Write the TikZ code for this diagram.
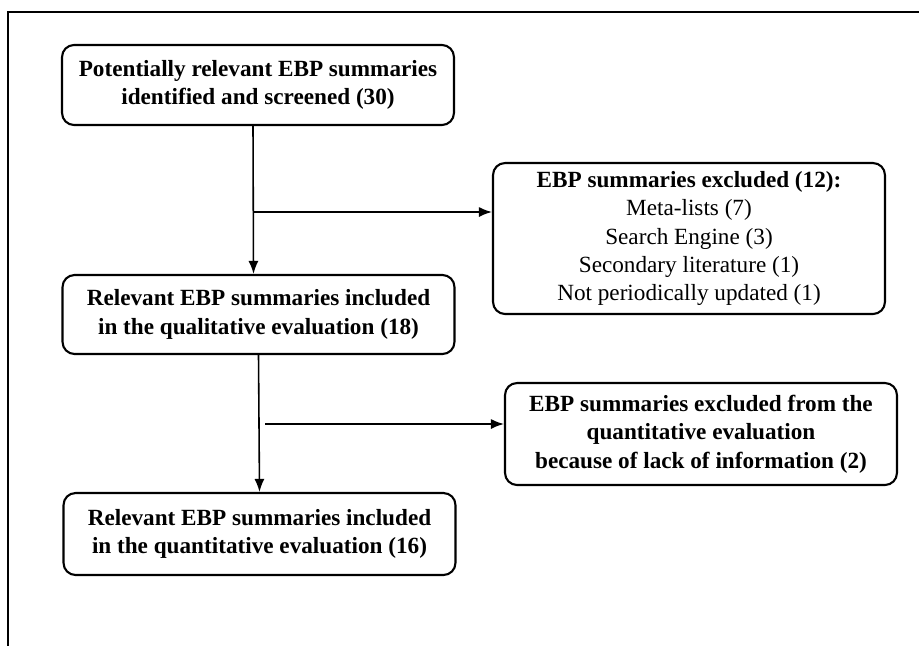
\documentclass[tikz,border=0pt]{standalone}
\usepackage{fontspec}
\setmainfont{Liberation Serif}
\usetikzlibrary{arrows.meta}

\tikzset{
  stage/.style={draw, line width=1.2pt, rounded corners=0.24cm, align=center,
    font=\bfseries\fontsize{13.2}{16.2}\selectfont, minimum width=7.84cm, inner sep=0pt},
  arr/.style={line width=0.9pt, -{Latex[length=0.26cm,width=0.2cm]}}
}

\begin{document}
\begin{tikzpicture}[x=0.02cm,y=-0.02cm]

\useasboundingbox (0,0) rectangle (919,646);

\draw[line width=1.1pt] (919,12) -- (8,12) -- (8,646);

\node[stage, minimum height=1.6cm] (ident) at (258,85) {Potentially relevant EBP summaries\\identified and screened (30)};
\node[stage, minimum height=3.02cm] (excl) at (689,238.5) {EBP summaries excluded (12):\\
  \mdseries Meta-lists (7)\\ \mdseries Search Engine (3)\\ \mdseries Secondary literature (1)\\ \mdseries Not periodically updated (1)};
\node[stage, minimum height=1.58cm] (qual) at (258.5,314.5) {Relevant EBP summaries included\\in the qualitative evaluation (18)};
\node[stage, minimum height=2.04cm] (lack) at (701,434) {EBP summaries excluded from the\\quantitative evaluation\\because of lack of information (2)};
\node[stage, minimum height=1.64cm] (quant) at (259.5,534) {Relevant EBP summaries included\\in the quantitative evaluation (16)};

\coordinate (split1) at (253,212);
\coordinate (split2) at (265,424);

\draw[arr] ([xshift=-0.1cm]ident.south) -- ([xshift=-0.1cm]qual.north);
\draw[arr] (split1) -- (split1 -| excl.west);
\draw[arr] (qual.south) -- (quant.north);
\draw[arr] (split2) -- (split2 -| lack.west);

\end{tikzpicture}
\end{document}
